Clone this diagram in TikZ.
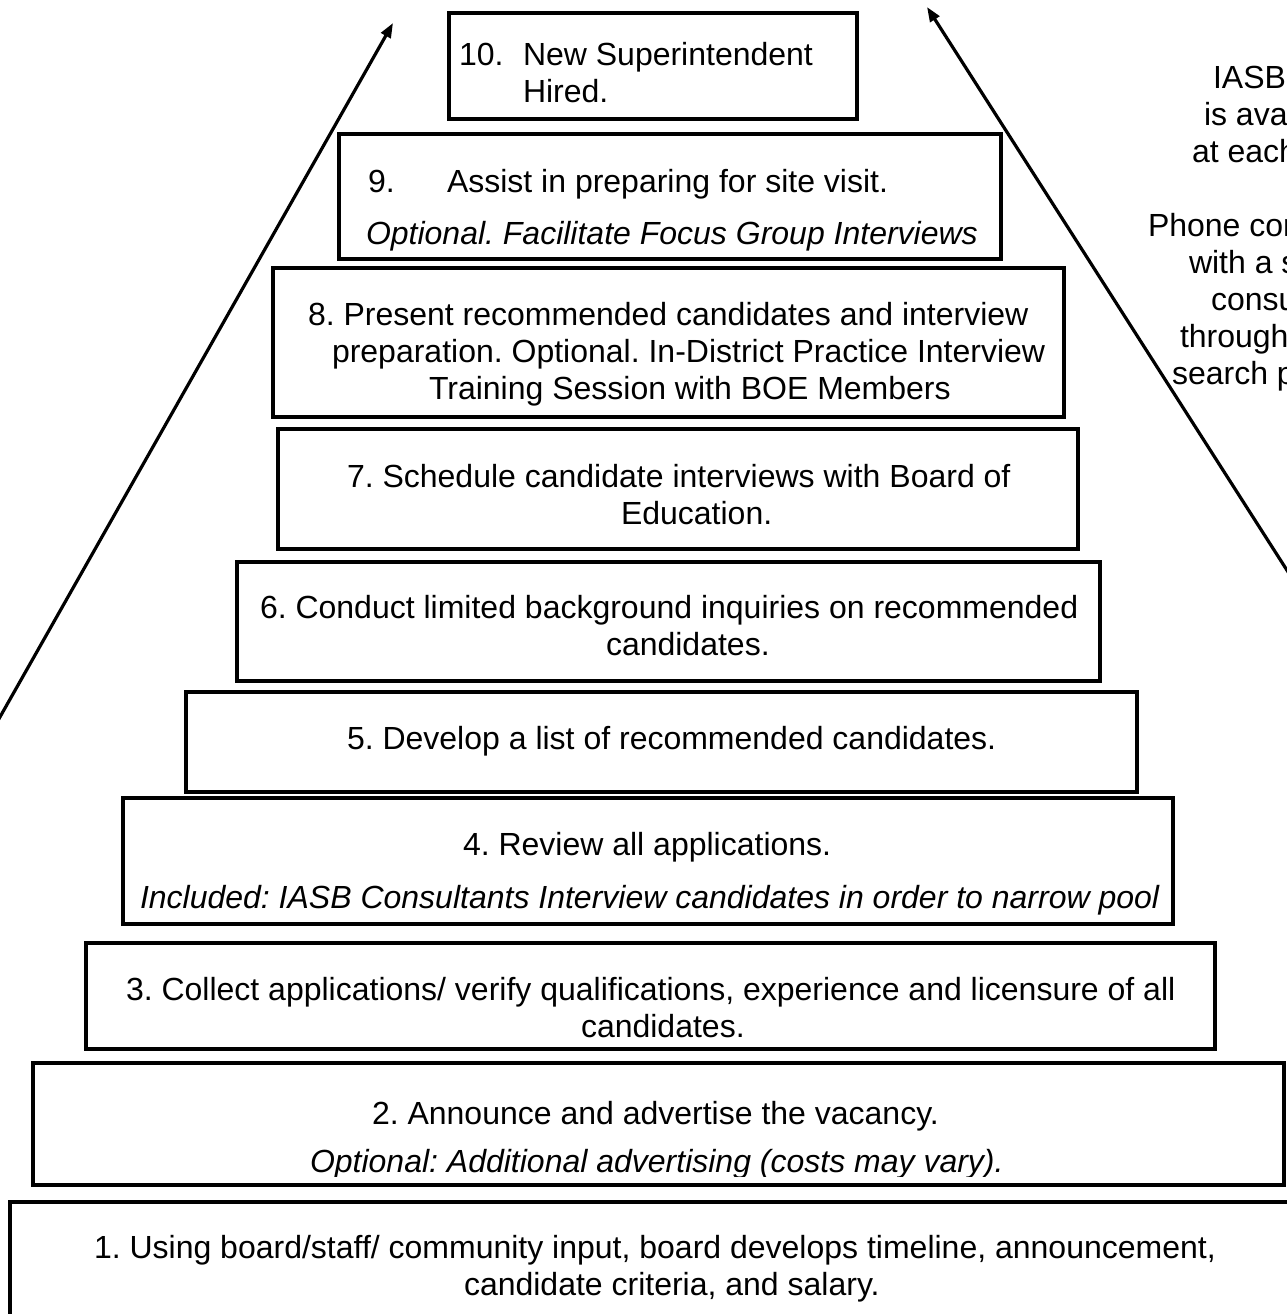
\documentclass[tikz,border=0pt]{standalone}
\usepackage{fontspec}
\setmainfont{Liberation Sans}
\usetikzlibrary{arrows.meta,fit}
\frenchspacing
\begin{document}
\begin{tikzpicture}[x=0.75pt,y=-0.75pt,
  stepbox/.style={draw=black, line width=2.4pt, inner sep=0pt, outer sep=0pt, rectangle},
  txt/.style={inner sep=0pt, outer sep=0pt, anchor=base west, font=\fontsize{24pt}{27.6pt}\selectfont\frenchspacing},
  itxt/.style={txt, font=\fontsize{24pt}{27.6pt}\selectfont\frenchspacing\itshape},
  side/.style={txt},
  arr/.style={line width=2.4pt, -{Triangle[length=11pt,width=8pt]}}]
\fill[white] (0,0) rectangle (1287,1314);
\useasboundingbox (0,0) rectangle (1287,1314);
\clip (0,0) rectangle (1287,1314);

% boxes
\node[stepbox, fit={(449,13) (857,119)}] (b10) {};
\node[stepbox, fit={(339,134) (1001,259)}] (b9) {};
\node[stepbox, fit={(273,268) (1064,417)}] (b8) {};
\node[stepbox, fit={(278,429) (1078,549)}] (b7) {};
\node[stepbox, fit={(237,562) (1100,681)}] (b6) {};
\node[stepbox, fit={(186,692) (1137,792)}] (b5) {};
\node[stepbox, fit={(123,798) (1173,924)}] (b4) {};
\node[stepbox, fit={(86,943) (1215,1049)}] (b3) {};
\node[stepbox, fit={(33,1063) (1284,1185)}] (b2) {};
\node[stepbox, fit={(10,1202) (1300,1330)}] (b1) {};

% texts
\node[txt] (t10a) at (459,65) {10.};
\node[txt] (t10b) at (523,65) {New Superintendent};
\node[txt] (t10c) at (523,102) {Hired.};
\node[txt] (t9a) at (368,192) {9.};
\node[txt] (t9b) at (447,192) {Assist in preparing for site visit.};
\node[itxt] (t9c) at (366,244) {Optional. Facilitate Focus Group Interviews};
\node[txt] (t8a) at (308,325) {8. Present recommended candidates and interview};
\node[txt] (t8b) at (332,362) {preparation. Optional. In-District Practice Interview};
\node[txt] (t8c) at (429,399) {Training Session with BOE Members};
\node[txt] (t7a) at (347,487) {7. Schedule candidate interviews with Board of};
\node[txt] (t7b) at (621,524) {Education.};
\node[txt] (t6a) at (260,618) {6. Conduct limited background inquiries on recommended};
\node[txt] (t6b) at (606,655) {candidates.};
\node[txt] (t5a) at (347,749) {5. Develop a list of recommended candidates.};
\node[txt] (t4a) at (463,855) {4. Review all applications.};
\node[itxt] (t4b) at (140,908) {Included: IASB Consultants Interview candidates in order to narrow pool};
\node[txt] (t3a) at (126,1000) {3. Collect applications/ verify qualifications, experience and licensure of all};
\node[txt] (t3b) at (581,1037) {candidates.};
\node[txt] (t2a) at (372,1124) {2. Announce and advertise the vacancy.};
\begin{scope}
\clip (33,1063) rectangle (1284,1176);
\node[itxt] (t2b) at (310,1172) {Optional: Additional advertising (costs may vary).};
\end{scope}
\node[txt] (t1a) at (94,1258) {1. Using board/staff/ community input, board develops timeline, announcement,};
\node[txt] (t1b) at (464,1295) {candidate criteria, and salary.};

% side note (cut at the right edge, as in the reference)
\node[side] (s1) at (1213,88) {IASB};
\node[side] (s2) at (1204,125) {is ava};
\node[side] (s3) at (1192,162) {at each};
\node[side] (s4) at (1148,236) {Phone con};
\node[side] (s5) at (1189,273) {with a s};
\node[side] (s6) at (1211,310) {consu};
\node[side] (s7) at (1180,347) {through};
\node[side] (s8) at (1172,384) {search p};

% arrows
\coordinate (la0) at (-4,724);
\coordinate (la1) at (393,23);
\coordinate (ra0) at (1290,575);
\coordinate (ra1) at (927,7);
\draw[arr] (la0) -- (la1);
\draw[arr] (ra0) -- (ra1);
\end{tikzpicture}
\end{document}
